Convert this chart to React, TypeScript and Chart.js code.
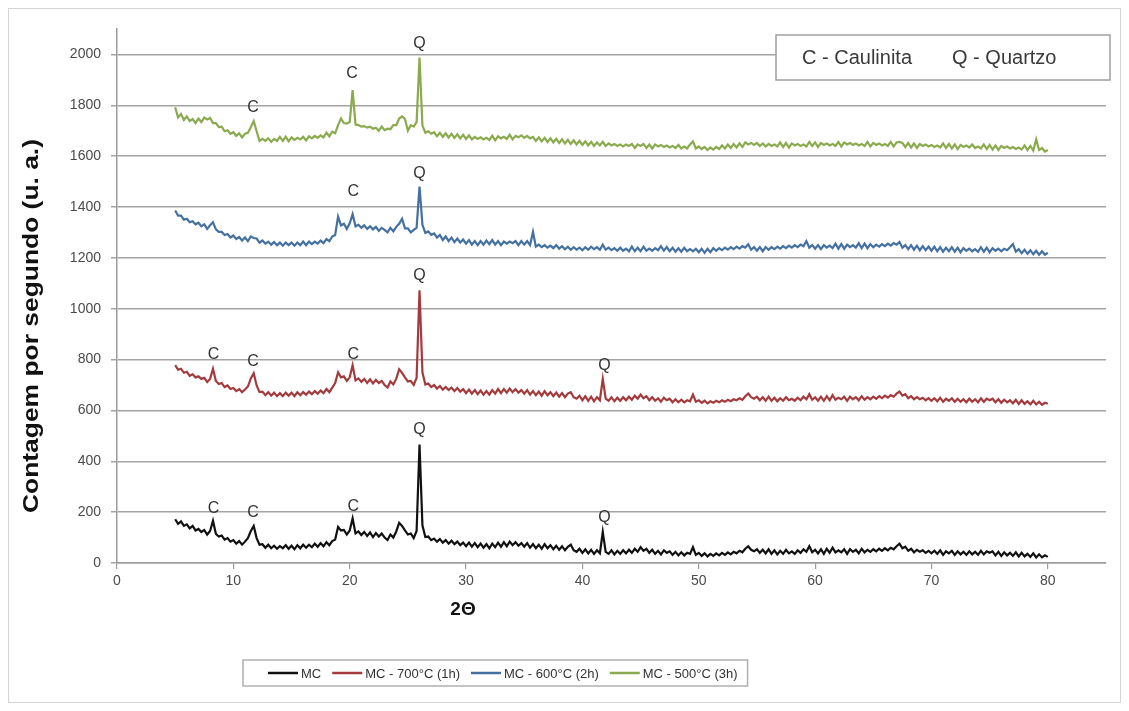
import React, { useEffect, useRef } from "react";
import { Chart, registerables } from "chart.js";

Chart.register(...registerables);

// 2θ sampling of the diffractograms (degrees)
const TWO_THETA_START = 5;
const TWO_THETA_STEP = 0.25;

// Series values (counts per second), one value per 0.25° from 5° to 80°
const MC = [
  172,154,164,146,152,136,146,128,134,122,130,112,126,166,114,104,108,92,98,84,
  90,76,86,72,84,98,126,146,98,72,74,60,72,58,68,56,66,58,70,56,
  68,54,70,58,72,60,72,62,76,64,78,66,82,70,86,92,142,128,130,112,
  128,175,116,124,110,122,106,120,102,118,104,116,100,90,112,100,124,158,146,128,
  112,116,98,126,466,148,102,104,90,96,84,94,80,90,76,88,74,84,70,80,
  66,80,64,78,62,76,60,74,58,76,62,80,64,82,66,84,70,82,68,78,
  64,78,60,74,58,72,56,74,58,70,54,68,52,66,50,64,72,50,44,56,
  40,54,38,52,36,50,38,122,44,36,50,34,48,36,50,38,52,40,56,44,
  62,48,56,40,52,36,48,34,50,40,46,32,44,30,42,30,40,36,62,32,
  40,28,38,26,36,28,38,30,40,32,42,34,44,38,48,42,56,66,52,46,
  54,40,52,38,54,36,50,34,48,36,52,38,46,36,50,40,54,44,66,42,
  52,38,54,36,56,40,60,42,50,42,54,36,54,44,52,38,56,42,52,44,
  54,46,56,48,58,50,60,54,66,76,58,64,48,56,42,52,44,50,40,48,
  38,48,36,50,32,46,38,48,32,46,34,44,32,46,34,44,32,48,34,46,
  40,46,30,44,28,42,30,40,28,42,26,40,26,36,24,38,22,34,22,30,
  24,
];

const MC_700 = [
  778,760,764,748,752,736,742,730,734,724,728,712,724,764,716,704,708,692,698,684,
  688,676,684,672,682,694,726,746,698,672,674,660,672,658,670,656,668,656,670,658,
  670,656,672,660,672,662,674,664,676,666,678,668,684,672,690,708,750,730,734,716,
  730,778,718,726,712,724,708,722,706,720,708,716,700,690,714,702,724,762,748,730,
  714,716,700,728,1072,750,702,706,692,700,686,696,682,692,680,690,676,688,674,684,
  668,682,666,680,664,678,662,676,662,680,666,684,668,684,670,686,672,684,670,680,
  666,680,662,676,660,674,658,676,660,672,656,670,654,668,652,666,672,652,646,658,
  640,656,638,654,636,652,640,724,646,638,652,636,650,638,652,640,654,642,658,646,
  662,648,656,640,652,638,648,634,650,640,646,632,644,632,642,632,640,636,662,634,
  640,630,638,628,636,630,638,632,640,634,642,636,644,640,648,642,656,666,652,646,
  654,640,652,638,654,638,650,636,648,638,652,640,646,638,650,640,654,644,664,642,
  652,638,654,638,656,640,660,642,650,644,654,638,654,644,652,640,656,642,652,644,
  654,646,656,648,658,650,660,654,666,674,658,664,648,656,644,652,644,650,640,648,
  638,648,636,650,634,646,638,648,634,646,634,644,632,646,634,644,632,648,634,646,
  640,646,632,644,630,642,632,640,628,642,626,640,626,636,624,638,624,634,622,630,
  626,
];

const MC_600 = [
  1386,1366,1366,1350,1354,1340,1344,1332,1338,1324,1332,1314,1328,1340,1312,1302,1302,1290,1294,1280,
  1288,1274,1282,1268,1280,1266,1284,1278,1276,1260,1268,1256,1264,1252,1262,1250,1260,1248,1260,1250,
  1260,1248,1260,1250,1264,1250,1264,1254,1264,1256,1268,1258,1274,1266,1284,1290,1362,1328,1334,1314,
  1336,1372,1324,1330,1318,1328,1314,1324,1312,1322,1306,1318,1310,1300,1318,1304,1322,1334,1354,1316,
  1316,1300,1310,1318,1480,1330,1298,1304,1290,1296,1280,1290,1270,1284,1266,1280,1262,1276,1260,1272,
  1256,1270,1252,1266,1250,1266,1252,1268,1254,1270,1252,1266,1250,1264,1256,1264,1258,1266,1250,1266,
  1252,1266,1250,1302,1244,1252,1242,1250,1240,1248,1238,1250,1236,1246,1234,1244,1232,1242,1232,1240,
  1230,1242,1232,1244,1234,1242,1232,1252,1232,1240,1230,1238,1228,1240,1228,1236,1226,1244,1226,1240,
  1226,1244,1228,1236,1228,1238,1230,1246,1228,1242,1226,1240,1224,1238,1224,1240,1226,1234,1226,1236,
  1222,1236,1220,1236,1222,1238,1228,1238,1230,1240,1232,1242,1234,1244,1236,1246,1240,1254,1232,1242,
  1228,1242,1226,1242,1232,1242,1234,1244,1236,1246,1238,1248,1240,1250,1242,1252,1246,1266,1240,1250,
  1236,1250,1234,1250,1240,1248,1238,1256,1236,1254,1236,1252,1242,1250,1240,1258,1238,1256,1238,1254,
  1242,1252,1244,1254,1246,1256,1248,1258,1252,1262,1240,1250,1234,1250,1232,1248,1230,1246,1230,1244,
  1228,1244,1226,1242,1224,1240,1226,1242,1224,1240,1222,1238,1228,1236,1226,1234,1224,1242,1224,1240,
  1222,1238,1228,1236,1226,1236,1230,1242,1254,1224,1234,1218,1232,1216,1230,1214,1228,1212,1226,1212,
  1220,
];

const MC_500 = [
  1792,1752,1766,1742,1756,1738,1746,1730,1748,1734,1752,1744,1750,1730,1730,1714,1716,1698,1702,1688,
  1694,1680,1690,1674,1688,1692,1714,1738,1698,1660,1668,1660,1670,1656,1668,1660,1676,1660,1676,1658,
  1674,1664,1672,1666,1676,1662,1678,1670,1680,1672,1682,1674,1692,1678,1696,1690,1722,1748,1730,1728,
  1734,1860,1724,1722,1716,1718,1712,1716,1708,1712,1700,1716,1702,1708,1706,1722,1722,1748,1756,1746,
  1700,1722,1716,1734,1988,1720,1692,1698,1688,1694,1678,1692,1676,1690,1674,1688,1672,1686,1670,1684,
  1668,1682,1666,1676,1668,1674,1666,1672,1664,1680,1662,1678,1670,1676,1668,1684,1666,1680,1674,1682,
  1672,1680,1670,1676,1660,1674,1658,1672,1656,1670,1654,1668,1652,1666,1650,1664,1648,1662,1646,1660,
  1644,1658,1642,1656,1640,1654,1642,1656,1640,1650,1642,1648,1640,1646,1638,1646,1640,1648,1632,1646,
  1640,1648,1632,1646,1630,1646,1638,1644,1636,1642,1634,1640,1632,1644,1630,1638,1630,1646,1658,1630,
  1638,1628,1636,1624,1634,1626,1636,1628,1642,1630,1646,1632,1648,1634,1650,1636,1654,1646,1652,1644,
  1652,1640,1650,1638,1648,1640,1646,1638,1654,1636,1652,1634,1650,1642,1648,1640,1646,1638,1656,1640,
  1654,1636,1652,1644,1650,1642,1648,1640,1656,1638,1654,1646,1652,1644,1650,1642,1648,1640,1656,1638,
  1652,1644,1650,1642,1648,1640,1656,1638,1654,1656,1652,1636,1652,1634,1650,1632,1648,1640,1646,1638,
  1644,1636,1642,1634,1650,1632,1648,1630,1646,1628,1644,1636,1642,1634,1646,1632,1638,1630,1646,1628,
  1644,1626,1642,1624,1640,1632,1638,1630,1636,1628,1634,1626,1642,1624,1640,1622,1666,1624,1632,1618,
  1624,
];

const SERIES_NAMES = ["MC", "MC - 700°C (1h)", "MC - 600°C (2h)", "MC - 500°C (3h)"];
const SERIES_COLORS = ["#111111", "#A33B3E", "#44719F", "#8AAA4E"];

// Peak identification labels (2θ, counts, text)
const PEAK_X = [8.3, 11.7, 20.3, 26.0, 41.9, 8.3, 11.7, 20.3, 26.0, 41.9, 20.3, 26.0, 11.7, 20.2, 26.0];
const PEAK_Y = [212, 199, 222, 523, 179, 820, 793, 820, 1129, 778, 1461, 1531, 1790, 1925, 2043];
const PEAK_TEXT = ["C", "C", "C", "Q", "Q", "C", "C", "C", "Q", "Q", "C", "Q", "C", "C", "Q"];

const X_TICKS = [0, 10, 20, 30, 40, 50, 60, 70, 80];
const Y_TICKS = [0, 200, 400, 600, 800, 1000, 1200, 1400, 1600, 1800, 2000];

const Y_TITLE = "Contagem por segundo (u. a.)";
const X_TITLE = "2Θ";
const KEY_TEXT = ["C - Caulinita", "Q - Quartzo"];

const W = 1113;
const H = 695;

const overlay = {
  id: "overlay",
  beforeDraw(chart: any) {
    const ctx = chart.ctx;
    ctx.save();
    ctx.fillStyle = "#ffffff";
    ctx.fillRect(0, 0, chart.width, chart.height);
    ctx.restore();
  },
  afterDraw(chart: any) {
    const ctx = chart.ctx;
    const xs = chart.scales.x;
    const ys = chart.scales.y;
    ctx.save();

    // peak labels
    ctx.font = "16px 'Liberation Sans', Arial, sans-serif";
    ctx.fillStyle = "#333333";
    ctx.textAlign = "center";
    ctx.textBaseline = "middle";
    for (let i = 0; i < PEAK_X.length; i++) {
      ctx.fillText(PEAK_TEXT[i], xs.getPixelForValue(PEAK_X[i]), ys.getPixelForValue(PEAK_Y[i]));
    }

    // key box
    const bx = 768, by = 27, bw = 334, bh = 45;
    ctx.fillStyle = "#ffffff";
    ctx.fillRect(bx, by, bw, bh);
    ctx.strokeStyle = "#a0a0a0";
    ctx.lineWidth = 1.5;
    ctx.strokeRect(bx, by, bw, bh);
    ctx.font = "20px 'Liberation Sans', Arial, sans-serif";
    ctx.fillStyle = "#3a3a3a";
    ctx.textAlign = "left";
    ctx.fillText(KEY_TEXT[0], bx + 26, by + bh / 2 + 1);
    ctx.fillText(KEY_TEXT[1], bx + 176, by + bh / 2 + 1);

    // y title (slightly stretched along its length, as in the original)
    ctx.save();
    ctx.translate(24, 318);
    ctx.rotate(-Math.PI / 2);
    ctx.scale(1.2, 1);
    ctx.font = "bold 22px 'Liberation Sans', Arial, sans-serif";
    ctx.fillStyle = "#111111";
    ctx.textAlign = "center";
    ctx.textBaseline = "middle";
    ctx.fillText(Y_TITLE, 0, 0);
    ctx.restore();

    // x title
    ctx.font = "bold 19px 'Liberation Sans', Arial, sans-serif";
    ctx.fillStyle = "#111111";
    ctx.textAlign = "center";
    ctx.textBaseline = "middle";
    ctx.fillText(X_TITLE, 455, 602);

    // legend
    ctx.font = "13px 'Liberation Sans', Arial, sans-serif";
    const lx = 235, ly = 652, lh = 26;
    let cx = lx + 25;
    const items: { x: number; w: number }[] = [];
    for (let i = 0; i < SERIES_NAMES.length; i++) {
      const tw = ctx.measureText(SERIES_NAMES[i]).width;
      items.push({ x: cx, w: tw });
      cx += 30 + 3 + tw + 11;
    }
    const lw = cx - 11 + 10 - lx;
    ctx.fillStyle = "#ffffff";
    ctx.fillRect(lx, ly, lw, lh);
    ctx.strokeStyle = "#b0b0b0";
    ctx.lineWidth = 1.5;
    ctx.strokeRect(lx, ly, lw, lh);
    for (let i = 0; i < items.length; i++) {
      ctx.strokeStyle = SERIES_COLORS[i];
      ctx.lineWidth = 2.5;
      ctx.beginPath();
      ctx.moveTo(items[i].x, ly + lh / 2);
      ctx.lineTo(items[i].x + 30, ly + lh / 2);
      ctx.stroke();
      ctx.fillStyle = "#333333";
      ctx.textAlign = "left";
      ctx.textBaseline = "middle";
      ctx.fillText(SERIES_NAMES[i], items[i].x + 33, ly + lh / 2 + 1);
    }

    // outer border
    ctx.strokeStyle = "#d4d4d4";
    ctx.lineWidth = 1;
    ctx.strokeRect(0.5, 0.5, chart.width - 1, chart.height - 1);
    ctx.restore();
  },
};

export default function App() {
  const ref = useRef<HTMLCanvasElement | null>(null);
  useEffect(() => {
    if (!ref.current) return;
    const twoTheta = MC.map((_, i) => TWO_THETA_START + i * TWO_THETA_STEP);
    const all = [MC, MC_700, MC_600, MC_500];
    const chart = new Chart(ref.current, {
      type: "line",
      data: {
        datasets: all.map((vals, k) => ({
          label: SERIES_NAMES[k],
          data: vals.map((v, i) => ({ x: twoTheta[i], y: v })),
          borderColor: SERIES_COLORS[k],
          backgroundColor: SERIES_COLORS[k],
          borderWidth: 2.2,
          pointRadius: 0,
          tension: 0,
          fill: false,
        })),
      },
      options: {
        responsive: false,
        animation: false,
        events: [],
        layout: { padding: { left: 0, top: 21, right: 15, bottom: 0 } },
        plugins: {
          legend: { display: false },
          tooltip: { enabled: false },
          title: { display: false },
        },
        scales: {
          x: {
            type: "linear",
            min: 0,
            max: 85,
            afterFit: (s: any) => { s.height = 140; },
            afterBuildTicks: (s: any) => { s.ticks = X_TICKS.map((v) => ({ value: v })); },
            ticks: {
              font: { family: "'Liberation Sans', Arial, sans-serif", size: 14 },
              color: "#4a4a4a",
              padding: 4,
              maxRotation: 0,
              callback: (v: any) => String(v),
            },
            grid: {
              drawOnChartArea: false,
              drawTicks: true,
              tickLength: 6,
              color: "#9c9c9c",
              lineWidth: 1.2,
            },
            border: { color: "#9c9c9c", width: 1.5 },
          },
          y: {
            type: "linear",
            min: 0,
            max: 2100,
            afterFit: (s: any) => { s.width = 109; },
            afterBuildTicks: (s: any) => { s.ticks = Y_TICKS.map((v) => ({ value: v })); },
            ticks: {
              font: { family: "'Liberation Sans', Arial, sans-serif", size: 14 },
              color: "#4a4a4a",
              padding: 10,
              callback: (v: any) => String(v),
            },
            grid: {
              color: "#a3a3a3",
              lineWidth: 1.5,
              tickLength: 6,
            },
            border: { color: "#9c9c9c", width: 1.5 },
          },
        },
      },
      plugins: [overlay],
    });
    return () => chart.destroy();
  }, []);
  return (
    <div style={{ width: W, height: H }}>
      <canvas ref={ref} width={W} height={H} style={{ display: "block" }} />
    </div>
  );
}
